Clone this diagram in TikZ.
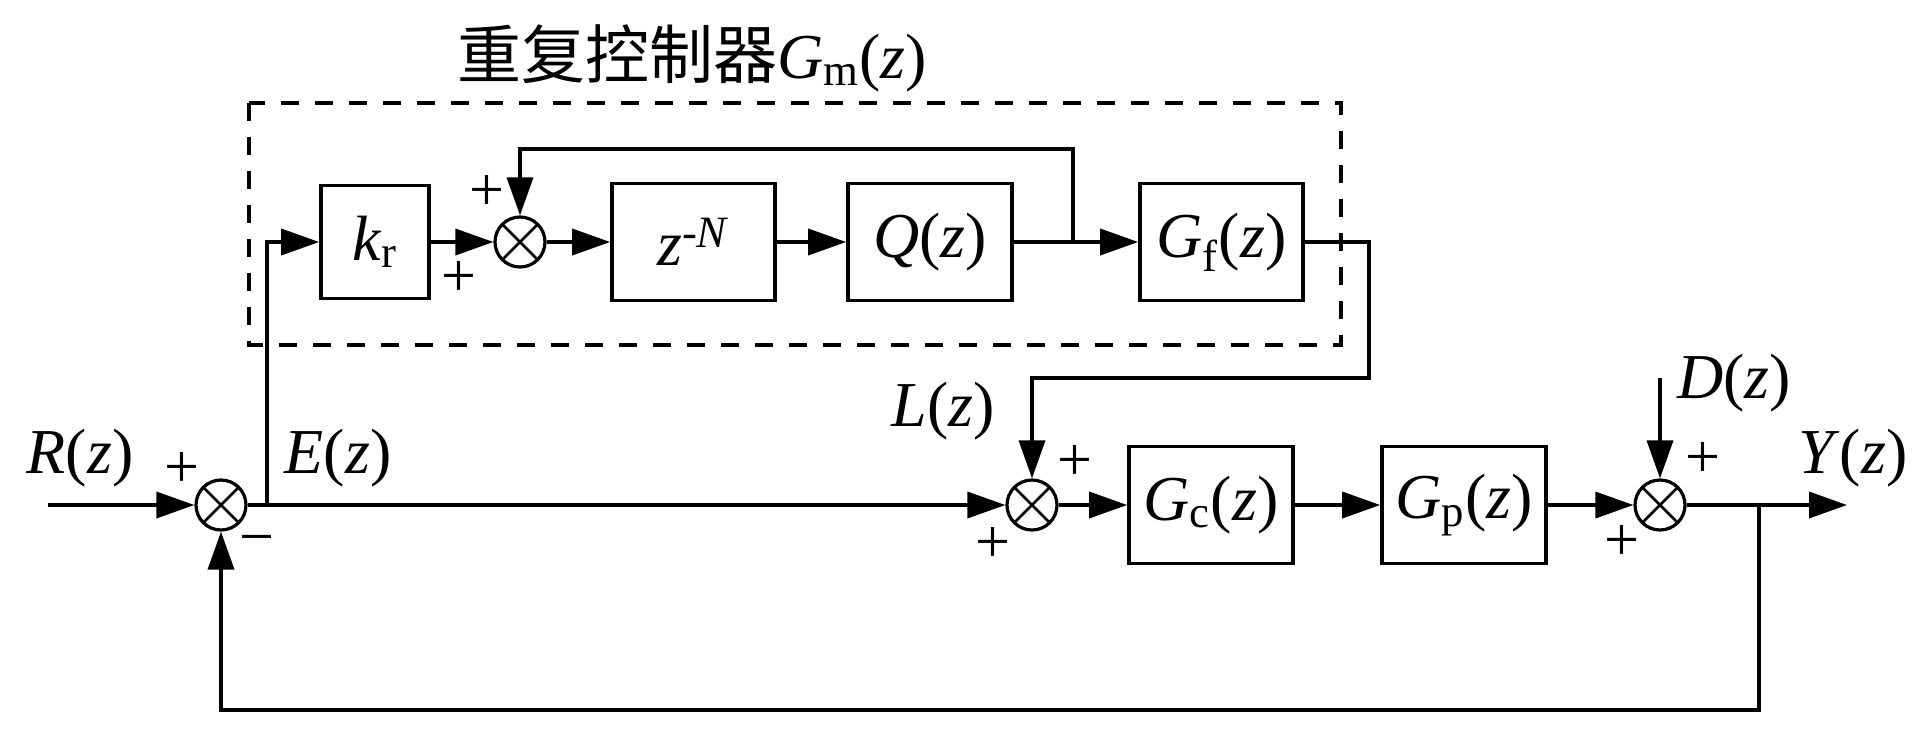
\documentclass[tikz,border=0pt]{standalone}
\usepackage{fontspec}
\setmainfont{LiberationSerif}[Extension=.ttf, UprightFont=*-Regular, ItalicFont=*-Italic, BoldFont=*-Bold, BoldItalicFont=*-BoldItalic]
\newfontfamily\cjk{Noto Sans CJK SC}
\usetikzlibrary{arrows.meta}
\begin{document}
\begin{tikzpicture}[x=0.5pt,y=-0.5pt,
  line width=1.8pt,
  big/.style={font=\fontsize{32}{38}\selectfont},
  blk/.style={draw, line width=1.8pt, minimum width=#1, minimum height=58.5pt, inner sep=0pt, big},
  sumj/.style={circle, draw, minimum size=25pt, inner sep=0pt, line width=1.6pt,
    path picture={\draw[line width=1.3pt] (path picture bounding box.south west) -- (path picture bounding box.north east)
      (path picture bounding box.north west) -- (path picture bounding box.south east);}},
  arr/.style={-{Triangle[length=19pt,width=13pt]}},
  lbl/.style={big, inner sep=0pt},
  sgn/.style={font=\fontsize{31}{34}\selectfont, inner sep=0pt},
  dbox/.style={draw, line width=1.6pt, dash pattern=on 9pt off 8pt}
]
\useasboundingbox (0,0) rectangle (1927,740);

% repetitive controller frame
\draw[dbox] (249,103) rectangle (1341,345);
\node[lbl] (title) at (692,58) {{\cjk 重复控制器}\textit{G}\textsubscript{m}(\textit{z})};

% summing junctions
\node[sumj] (s1) at (221,505) {};
\node[sumj] (si) at (520,242) {};
\node[sumj] (s2) at (1032,505) {};
\node[sumj] (s3) at (1660,505) {};

% blocks
\node[blk=54pt, minimum height=56.5pt] (kr) at (375,242) {\textit{k}\textsubscript{r}};
\node[blk=81.5pt] (zn) at (693.5,242) {\textit{z}\textsuperscript{-\textit{N}}};
\node[blk=82pt] (q) at (930,242) {\textit{Q}(\textit{z})};
\node[blk=81.5pt] (gf) at (1221.5,242) {\textit{G}\textsubscript{f}(\textit{z})};
\node[blk=82pt] (gc) at (1211,505) {\textit{G}\textsubscript{c}(\textit{z})};
\node[blk=82pt] (gp) at (1464,505) {\textit{G}\textsubscript{p}(\textit{z})};

% coordinates
\coordinate (rin) at (48,505);
\coordinate (eb) at (267,505);
\coordinate (qb) at (1073,242);
\coordinate (qt) at (1073,149);
\coordinate (gfr) at (1369,242);
\coordinate (lt) at (1032,378);
\coordinate (dt) at (1660,378);
\coordinate (yo) at (1847,505);
\coordinate (yb) at (1759,505);
\coordinate (bb) at (1759,710);

% connectors
\draw[arr] (rin) -- (s1.west);
\draw[arr] (s1.east) -- (s2.west);
\draw[arr] (eb) |- (kr.west);
\draw[arr] (kr.east) -- (si.west);
\draw[arr] (si.east) -- (zn.west);
\draw[arr] (zn.east) -- (q.west);
\draw[arr] (q.east) -- (gf.west);
\draw[arr] (qb) -- (qt) -| (si.north);
\draw[arr] (gf.east) -- (gfr) |- (lt) -- (s2.north);
\draw[arr] (s2.east) -- (gc.west);
\draw[arr] (gc.east) -- (gp.west);
\draw[arr] (gp.east) -- (s3.west);
\draw[arr] (dt) -- (s3.north);
\draw[arr] (s3.east) -- (yo);
\draw[arr] (yb) -- (bb) -| (s1.south);

% signal labels
\node[lbl] (rl) at (80,458) {\textit{R}(\textit{z})};
\node[lbl] (el) at (338,458) {\textit{E}(\textit{z})};
\node[lbl] (ll) at (943,411) {\textit{L}(\textit{z})};
\node[lbl] (dl) at (1734,383) {\textit{D}(\textit{z})};
\node[lbl] (yl) at (1853,458) {\textit{Y}(\textit{z})};

% signs
\node[sgn] (p1) at (182,470) {+};
\node[sgn] (m1) at (257,546) {−};
\node[sgn] (p2) at (487,193) {+};
\node[sgn] (p3) at (459,279) {+};
\node[sgn] (p4) at (1075,463) {+};
\node[sgn] (p5) at (993,545) {+};
\node[sgn] (p6) at (1703,460) {+};
\node[sgn] (p7) at (1622,543) {+};
\end{tikzpicture}
\end{document}
